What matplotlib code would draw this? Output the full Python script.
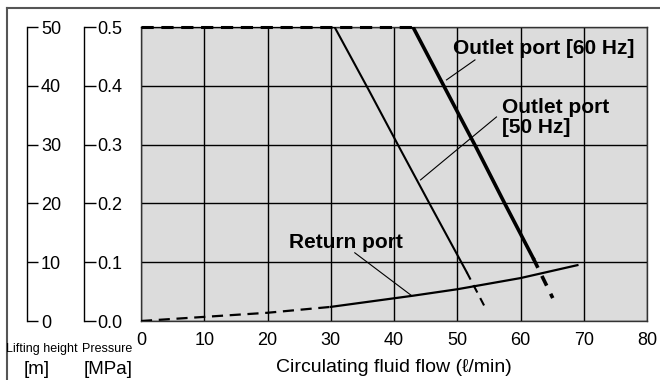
import numpy as np
import matplotlib.pyplot as plt
from matplotlib.lines import Line2D

flujo_50 = [0, 30.6, 36.0, 41.0, 46.0, 51.5]
pres_50 = [0.5, 0.5, 0.393, 0.292, 0.192, 0.083]
flujo_50_dash = [51.5, 54.6]
pres_50_dash = [0.083, 0.019]

flujo_60 = [43.0, 48.5, 53.0, 57.5, 62.0]
pres_60 = [0.5, 0.387, 0.295, 0.200, 0.107]
flujo_60_dash = [62.0, 65.1]
pres_60_dash = [0.107, 0.039]

flujo_tope = [0, 43.0]
pres_tope = [0.5, 0.5]

flujo_ret = [30, 43, 50, 60, 69]
pres_ret = [0.024, 0.043, 0.054, 0.073, 0.095]
flujo_ret_dash = [0, 10, 20, 30]
pres_ret_dash = [0.0, 0.007, 0.014, 0.024]

xticks = [0, 10, 20, 30, 40, 50, 60, 70, 80]
pticks = [0.0, 0.1, 0.2, 0.3, 0.4, 0.5]
pticklabels = ['0.0', '0.1', '0.2', '0.3', '0.4', '0.5']
hticks = [0, 10, 20, 30, 40, 50]

fuente = ['Liberation Sans', 'DejaVu Sans']
plt.rcParams['font.family'] = fuente
tam_tick = 13
tam_etiq = 15

fig = plt.figure(figsize=(6.6, 3.8), dpi=100)
ax = fig.add_axes([141/660, 1 - 321/380, 506/660, 294/380])
ax.set_facecolor('#dcdcdc')
ax.set_xlim(0, 80)
ax.set_ylim(0, 0.5)
ax.set_xticks(xticks)
ax.set_yticks(pticks)
ax.grid(True, color='black', lw=1.0)
ax.tick_params(axis='x', length=0, labelsize=tam_tick, pad=8)
ax.tick_params(axis='y', length=0, labelleft=False)
for s in ax.spines.values():
    s.set_color('#333333')
    s.set_linewidth(1.0)

# curvas
ax.plot(flujo_tope, pres_tope, color='black', lw=2.2, ls=(0, (4, 2.5)), clip_on=False, zorder=5)
ax.plot(flujo_50, pres_50, color='black', lw=1.5, zorder=5)
ax.plot(flujo_50_dash, pres_50_dash, color='black', lw=1.5, ls=(0, (4, 3)), zorder=5)
ax.plot(flujo_60, pres_60, color='black', lw=2.6, zorder=5)
ax.plot(flujo_60_dash, pres_60_dash, color='black', lw=2.6, ls=(0, (3, 2.5)), zorder=5)
ax.plot(flujo_ret, pres_ret, color='black', lw=1.6, zorder=5)
ax.plot(flujo_ret_dash, pres_ret_dash, color='black', lw=1.6, ls=(0, (5, 3)), zorder=5)

# etiquetas de las curvas
ax.text(49.3, 0.464, 'Outlet port [60 Hz]', fontsize=tam_etiq, fontweight='bold',
        va='center', ha='left', zorder=6)
ax.plot([52.8, 48.3], [0.444, 0.41], color='black', lw=0.8, zorder=6)
ax.text(57.0, 0.346, 'Outlet port\n[50 Hz]', fontsize=tam_etiq, fontweight='bold',
        va='center', ha='left', linespacing=1.05, zorder=6)
ax.plot([56.2, 44.2], [0.347, 0.24], color='black', lw=0.8, zorder=6)
ax.text(23.4, 0.134, 'Return port', fontsize=tam_etiq, fontweight='bold',
        va='center', ha='left', zorder=6)
ax.plot([33.8, 42.8], [0.116, 0.043], color='black', lw=0.8, zorder=6)

ax.set_xlabel('Circulating fluid flow (\u2113/min)', fontsize=14)
ax.xaxis.set_label_coords(0.5, -(368 - 321) / 294, transform=None)
ax.xaxis.label.set_va('center')
ax.xaxis.set_label_coords(0.5, -(368 - 321) / 294)

# eje de presion
ax_p = ax.twinx()
ax_p.set_ylim(0, 0.5)
ax_p.set_yticks(pticks)
ax_p.set_yticklabels(pticklabels)
ax_p.spines['right'].set_position(('axes', (84 - 141) / 506))
for k in ['left', 'top', 'bottom']:
    ax_p.spines[k].set_visible(False)
ax_p.spines['right'].set_linewidth(1.0)
ax_p.tick_params(axis='y', direction='out', length=8.5, width=1.0, pad=1, labelsize=tam_tick)

# eje de altura
ax_h = ax.twinx()
ax_h.set_ylim(0, 50)
ax_h.set_yticks(hticks)
ax_h.spines['right'].set_position(('axes', (27 - 141) / 506))
for k in ['left', 'top', 'bottom']:
    ax_h.spines[k].set_visible(False)
ax_h.spines['right'].set_linewidth(1.0)
ax_h.tick_params(axis='y', direction='out', length=8, width=1.0, pad=2, labelsize=tam_tick)

# titulos de los ejes verticales
estrecha = ['Liberation Sans Narrow', 'Liberation Sans', 'DejaVu Sans']
fig.text(42/660, 1 - 349/380, 'Lifting height', family=estrecha, fontsize=9, ha='center', va='center')
fig.text(37/660, 1 - 369/380, '[m]', fontsize=13.5, ha='center', va='center')
fig.text(107/660, 1 - 349/380, 'Pressure', family=estrecha, fontsize=9, ha='center', va='center')
fig.text(108/660, 1 - 369/380, '[MPa]', fontsize=13.5, ha='center', va='center')

# marco exterior
fig.add_artist(Line2D([7/660, 1], [1 - 8/380, 1 - 8/380], color='#555555', lw=1.5))
fig.add_artist(Line2D([7/660, 7/660], [0, 1 - 8/380], color='#555555', lw=1.5))

fig.savefig('out.png', dpi=100)
